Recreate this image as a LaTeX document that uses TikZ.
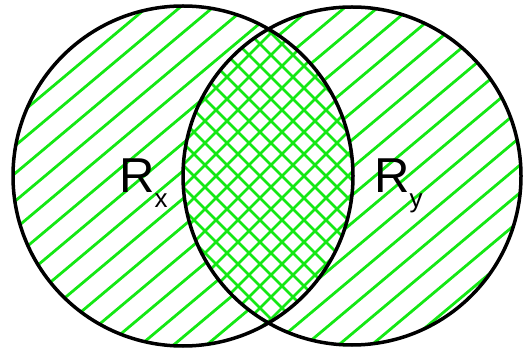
\documentclass[tikz,border=0pt]{standalone}
\usepackage{fontspec}
\setmainfont{Liberation Sans}
\usetikzlibrary{calc}
\definecolor{hatchgreen}{RGB}{20,232,20}

\begin{document}
\begin{tikzpicture}[
  x=1pt, y=-1pt,
  hatch/.style={line width=2.8pt, hatchgreen},
  rim/.style={draw=black, line width=3.5pt},
  setname/.style={font=\fontsize{49}{49}\selectfont, inner sep=0pt, anchor=base west},
  sublab/.style={font=\fontsize{26}{26}\selectfont}
]
\useasboundingbox (0,0) rectangle (524,352);
\coordinate (cx) at (183,176);
\coordinate (cy) at (352,176);

% single hatching in each set
\begin{scope}
  \clip (cx) circle[radius=170pt];
  \foreach \s in {-120,-87,...,640}
    \draw[hatch] ($(\s,176)+(-230,193)$) -- ($(\s,176)+(230,-193)$);
\end{scope}
\begin{scope}
  \clip (cy) circle[radius=169pt];
  \foreach \s in {-120,-87,...,640}
    \draw[hatch] ($(\s,176)+(-230,193)$) -- ($(\s,176)+(230,-193)$);
\end{scope}

% cross hatching in the overlap
\begin{scope}
  \clip (cx) circle[radius=170pt];
  \clip (cy) circle[radius=169pt];
  \fill[white] (0,0) rectangle (524,352);
  \foreach \s in {-4,18,...,560} {
    \draw[hatch] ($(\s,176)+(-200,200)$) -- ($(\s,176)+(200,-200)$);
    \draw[hatch] ($(\s,176)+(-200,-200)$) -- ($(\s,176)+(200,200)$);
  }
\end{scope}

\draw[rim] (cx) circle[radius=170pt];
\draw[rim] (cy) circle[radius=169pt];

\node[setname] (rx) at (119,193) {R\raisebox{-15pt}{\fontsize{26}{26}\selectfont x}};
\node[setname] (ry) at (374,193) {R\raisebox{-15pt}{\fontsize{26}{26}\selectfont y}};
\end{tikzpicture}
\end{document}
